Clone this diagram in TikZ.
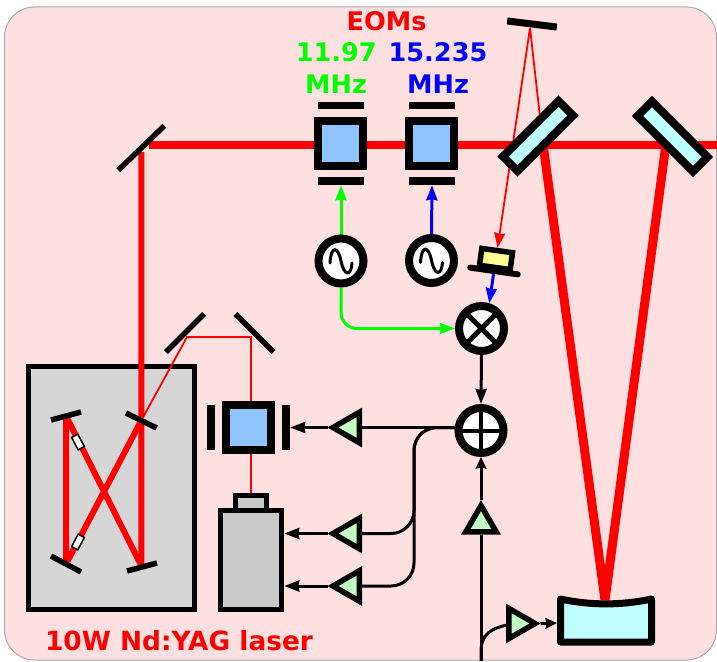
\documentclass[tikz,border=0pt]{standalone}
\usepackage{fontspec}
\setmainfont{DejaVu Sans}
\usepackage{tikz}
\usetikzlibrary{shapes.geometric}
\usetikzlibrary{calc,backgrounds,arrows.meta}
\definecolor{panelpink}{HTML}{FFE0E0}
\definecolor{crystal}{HTML}{90C4FF}
\definecolor{mirrorcyan}{HTML}{C0FFFF}
\definecolor{ampgreen}{HTML}{C0FFC0}
\definecolor{pdyellow}{HTML}{FFFF90}
\tikzstyle{optics}=[
  x=1pt,y=-1pt,font=\fontsize{25.6}{30}\selectfont\bfseries
]
\tikzstyle{mirror}=[
  fill=black,inner sep=0pt,minimum height=5.5pt
]
\tikzstyle{plate}=[
  fill=black,inner sep=0pt
]
\tikzstyle{eom}=[
  draw,line width=8.5pt,inner sep=0pt,fill=crystal,minimum size=45pt
]
\tikzstyle{cavmirror}=[
  draw,line width=8pt,inner sep=0pt,fill=mirrorcyan,minimum width=78.5pt,minimum height=20.5pt
]
\tikzstyle{ring}=[
  draw,circle,line width=8pt,inner sep=0pt,fill=white,minimum size=45pt
]
\tikzstyle{amp}=[
  draw,regular polygon,regular polygon sides=3,line width=5.5pt,inner sep=0pt,fill=ampgreen,minimum size=35pt
]
\tikzstyle{brewster}=[
  draw,line width=1.5pt,inner sep=0pt,fill=white,minimum width=7pt,minimum height=14pt
]
\tikzstyle{beam}=[
  draw=red,line width=6pt
]
\tikzstyle{mainbeam}=[
  draw=red,line width=8pt
]
\tikzstyle{cavbeam}=[
  draw=red,line width=9pt
]
\tikzstyle{thinbeam}=[
  draw=red,line width=1.8pt
]
\tikzstyle{sigline}=[
  line width=3pt,-{Stealth[length=15pt,width=11pt,inset=1pt]}
]
\tikzstyle{shortsig}=[
  line width=3pt,-{Stealth[length=11.5pt,width=10.5pt,inset=1pt]}
]
\tikzstyle{busline}=[
  line width=3pt,rounded corners=23pt
]
\tikzstyle{crossline}=[
  line width=4pt,shorten <=2pt,shorten >=2pt
]
\tikzstyle{timesline}=[
  line width=5pt,shorten <=3pt,shorten >=3pt
]
\tikzstyle{sine}=[
  line width=3pt,line cap=round
]
\tikzstyle{boxed}=[
  draw,line width=5.5pt,inner sep=0pt
]
\tikzstyle{caption}=[
  anchor=base,inner sep=0pt
]

\begin{document}
\begin{tikzpicture}[optics]
    \useasboundingbox (0,0) rectangle (717,661);
    \begin{scope}[on background layer]
      \node (panel) at (360.5,333.5) [draw=black!33,line width=1pt,fill=panelpink,rounded corners=30pt,inner sep=0pt,minimum width=712pt,minimum height=653pt] {};
      \node (laserbox) at (111.5,488) [boxed,fill=black!16,minimum width=166pt,minimum height=243pt] {};
    \end{scope}

    \node (steer) at (141.3,148) [mirror,minimum width=64pt,rotate=44] {};
    \node (foldL) at (185,333) [mirror,minimum width=54pt,rotate=45] {};
    \node (foldR) at (254.5,333) [mirror,minimum width=54pt,rotate=-45] {};
    \node (ringTL) at (66,416) [mirror,minimum width=31pt,rotate=15] {};
    \node (ringTR) at (141.3,420.5) [mirror,minimum width=34pt,rotate=-26] {};
    \node (ringBL) at (66,564) [mirror,minimum width=34pt,rotate=-28] {};
    \node (ringBR) at (142,567) [mirror,minimum width=31pt,rotate=15] {};
    \node (topm) at (532,24) [mirror,minimum width=50pt,minimum height=7pt,rotate=-7] {};
    \node (cavA) at (538,136) [cavmirror,rotate=45] {};
    \node (cavB) at (672.5,136.5) [cavmirror,rotate=-45] {};

    \node (brewA) at (78,442) [brewster,rotate=28] {};
    \node (brewB) at (78,542) [brewster,rotate=-28] {};

    \node (eomG) at (340.5,143.5) [eom] {};
    \node (eomB) at (431.5,143.5) [eom] {};
    \node (eomGtop) at (341,105.5) [plate,minimum width=46pt,minimum height=7.5pt] {};
    \node (eomGbot) at (341,181) [plate,minimum width=46pt,minimum height=8pt] {};
    \node (eomBtop) at (432,105.5) [plate,minimum width=46pt,minimum height=7.5pt] {};
    \node (eomBbot) at (432,181) [plate,minimum width=46pt,minimum height=8pt] {};
    \node (modL) at (248.5,427.5) [eom] {};
    \node (modLleft) at (211,427.5) [plate,minimum width=8pt,minimum height=45pt] {};
    \node (modLright) at (286,427.5) [plate,minimum width=8pt,minimum height=45pt] {};

    \node (head) at (251,503) [boxed,fill=black!21,minimum width=31pt,minimum height=15pt] {};
    \node (body) at (251,560) [boxed,fill=black!21,minimum width=61pt,minimum height=99pt] {};

    \node (oscG) at (341,261) [ring] {};
    \node (oscB) at (431.5,260.5) [ring] {};
    \node (mult) at (481.5,328.5) [ring] {};
    \node (plus) at (481,430.5) [ring] {};

    \node (pd) at (496,259) [boxed,fill=pdyellow,minimum width=31pt,minimum height=17pt,rotate=-8] {};
    \node (pdbase) at (494,271) [fill=black,inner sep=0pt,rounded corners=3pt,minimum width=54pt,minimum height=6pt,rotate=-8] {};

    \node (ampA) at (350.5,427.5) [amp,rotate=90] {};
    \node (ampB) at (350.5,533.5) [amp,rotate=90] {};
    \node (ampC) at (350.5,586) [amp,rotate=90] {};
    \node (ampUp) at (481,523) [amp] {};
    \node (ampD) at (517.5,623.5) [amp,rotate=-90] {};

    \draw [line width=7pt,fill=mirrorcyan,line join=round] (560.5,599) .. controls (590,605.5) and (622,605.5) .. (651.5,599) -- (651.5,642) -- (560.5,642) -- cycle;
    \coordinate (pztin) at (557,623);
    \coordinate (focus) at (605,600);
    \coordinate (steerhit) at (149,144.5);
    \coordinate (exit) at (717,144.5);
    \coordinate (hitA) at (543,144);
    \coordinate (hitB) at (666,144);
    \coordinate (topHit) at (530,28);
    \coordinate (foldLhit) at (187,337);
    \coordinate (foldRhit) at (251,337);
    \coordinate (feed) at (481,661);
    \coordinate (busTop) at (414,427.5);

    \draw [timesline] (mult.45) -- (mult.225);
    \draw [timesline] (mult.135) -- (mult.315);
    \draw [crossline] (plus.north) -- (plus.south);
    \draw [crossline] (plus.west) -- (plus.east);
    \foreach \osc in {oscG,oscB} {
      \draw [sine] ($(\osc)+(-11,2)$) .. controls ($(\osc)+(-10,-16)$) and ($(\osc)+(-3,-15)$) .. (\osc.center) .. controls ($(\osc)+(3,15)$) and ($(\osc)+(10,16)$) .. ($(\osc)+(11,2)$);
    }

    \begin{scope}[on background layer]
      \draw [mainbeam] (steerhit) -- (exit);
      \draw [beam] (steer) -- (ringTR);
      \draw [beam] (ringTR) -- (ringTR |- ringBR);
      \draw [beam] (ringBR) -- (ringTL);
      \draw [beam] (ringTL) -- (ringBL);
      \draw [beam] (ringBL) -- (ringTR);
      \draw [cavbeam] (hitA) -- (focus);
      \draw [cavbeam] (hitB) -- (focus);
      \draw [thinbeam] (ringTR) -- (foldLhit) -- (foldRhit) -- (head.north);
      \draw [thinbeam] (topHit) -- (hitA);
      \draw [thinbeam,sigline,line width=1.8pt] (topHit) -- (pd.north);
      \draw [draw=green,sigline] (oscG.north) -- (eomGbot.south);
      \draw [draw=blue,sigline] (oscB.north) -- (eomBbot.south);
      \draw [draw=green,sigline,rounded corners=16pt] (oscG.south) -- (oscG |- mult) -- (mult.west);
      \draw [draw=blue,sigline] (pdbase) -- (mult.73);
      \draw [sigline] (mult.south) -- (plus.north);
      \draw [shortsig] (ampUp.corner 1) -- (plus.south);
      \draw [shortsig] (ampD.corner 1) -- (pztin);
      \draw [line width=3pt] (feed) -- (ampUp);
      \draw [line width=3pt] (feed) -- ($(feed)+(0,-10)$) .. controls ($(feed)+(0,-24)$) and ($(ampD)+(-30,3)$) .. (ampD.center);
      \draw [line width=3pt] (ampA -| plus) -- (ampA);
      \draw [sigline] (ampA.corner 1) -- (ampA.corner 1 -| modLright.east);
      \draw [busline] (ampA -| plus) -- (busTop) -- (ampB -| busTop) -- (ampB);
      \draw [busline] (ampA -| plus) -- (busTop) -- (ampC -| busTop) -- (ampC);
      \draw [sigline] (ampB.corner 1) -- (ampB.corner 1 -| body.east);
      \draw [sigline] (ampC.corner 1) -- (ampC.corner 1 -| body.east);
    \end{scope}

    \node (eomsT) at (386.7,31) [caption,text=red] {EOMs};
    \node (freqG) at (336.3,61) [caption,text=green] {11.97};
    \node (freqB) at (438,61) [caption,text=blue] {15.235};
    \node (unitG) at (336,93) [caption,text=green] {MHz};
    \node (unitB) at (438,93) [caption,text=blue] {MHz};
    \node (laserT) at (179,650) [caption,text=red,font=\fontsize{26.4}{30}\selectfont\bfseries] {10W Nd:YAG laser};
\end{tikzpicture}
\end{document}
